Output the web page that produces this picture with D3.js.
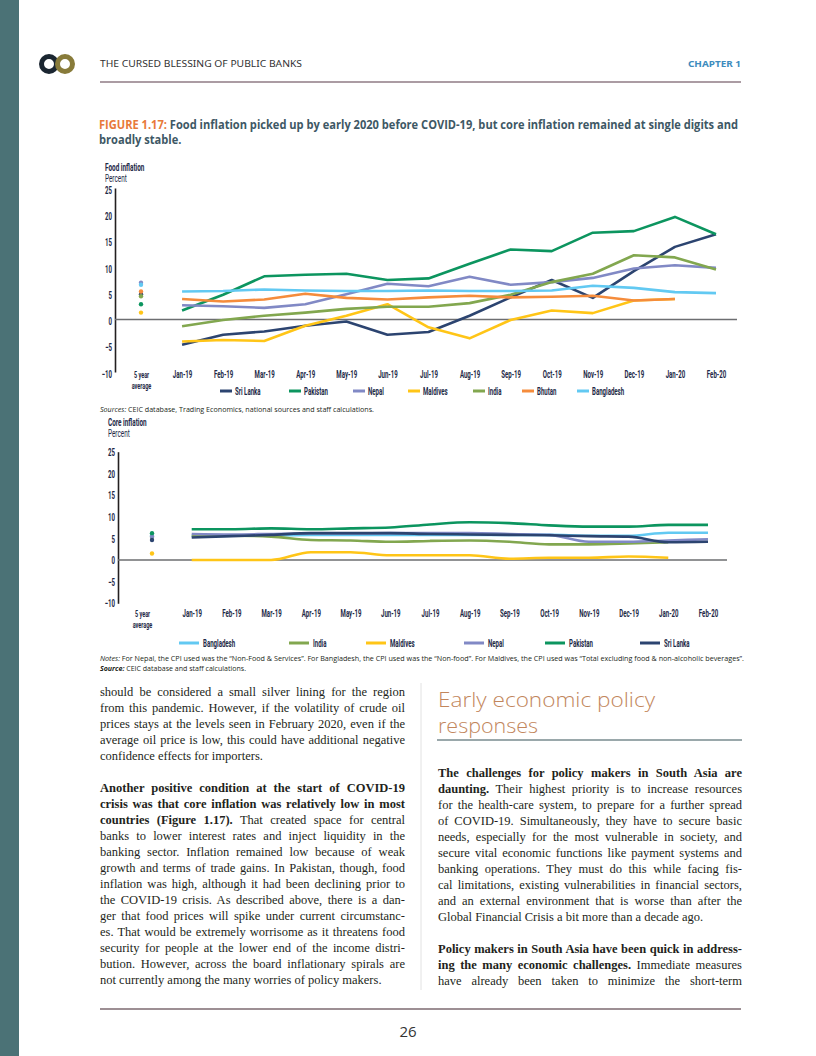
<!DOCTYPE html>
<html><head><meta charset="utf-8">
<script src="https://cdn.jsdelivr.net/npm/d3@7"></script>
<style>
html,body{margin:0;padding:0;background:#fff;}
body{width:816px;height:1056px;position:relative;overflow:hidden;}
#page{position:absolute;left:0;top:0;}
.ln{position:absolute;font-family:"Liberation Serif","Times New Roman",serif;font-size:12.5px;line-height:16px;color:#231f20;text-align:justify;text-align-last:justify;white-space:nowrap;}
.ln.last{text-align-last:left;}
.ln b{font-weight:bold;}
</style></head><body>
<svg id="page" width="816" height="1056"></svg>
<script>
// ---------- DATA ----------
const months = ["Jan-19","Feb-19","Mar-19","Apr-19","May-19","Jun-19","Jul-19","Aug-19","Sep-19","Oct-19","Nov-19","Dec-19","Jan-20","Feb-20"];
const avgLabel = "5 year average";
const categories = [avgLabel, ...months];
const yTicks = [25, 20, 15, 10, 5, 0, -5, -10];

const foodCountries = ["Sri Lanka","Pakistan","Nepal","Maldives","India","Bhutan","Bangladesh"];
const foodSriLanka  = [-4.8,-2.9,-2.3,-1.2,-0.4,-2.9,-2.4, 0.7, 4.2, 7.5, 4.1, 9.2,13.8,16.2];
const foodPakistan  = [ 1.7, 4.7, 8.2, 8.5, 8.7, 7.5, 7.8,10.6,13.3,13.0,16.5,16.8,19.5,16.2];
const foodNepal     = [ 2.7, 2.5, 2.2, 2.9, 4.8, 6.8, 6.3, 8.1, 6.6, 7.1, 7.9, 9.7,10.3, 9.8];
const foodMaldives  = [-4.2,-3.9,-4.1,-1.2, 0.7, 2.9,-1.5,-3.6,-0.1, 1.7, 1.2, 3.6, 3.9, null];
const foodIndia     = [-1.3,-0.1, 0.7, 1.3, 2.0, 2.4, 2.4, 3.1, 4.7, 7.1, 8.7,12.2,11.8, 9.5];
const foodBhutan    = [ 3.9, 3.4, 3.8, 4.9, 4.1, 3.8, 4.2, 4.5, 4.2, 4.3, 4.5, 3.6, 3.9, null];
const foodBangladesh= [ 5.3, 5.4, 5.7, 5.5, 5.4, 5.4, 5.5, 5.4, 5.4, 5.5, 6.4, 6.0, 5.2, 5.0];
const food5yrAvg    = [4.8, 2.9, 7.0, 1.3, 4.4, 5.3, 6.6]; // same order as foodCountries

const coreCountries = ["Bangladesh","India","Maldives","Nepal","Pakistan","Sri Lanka"];
const coreBangladesh= [5.5, 5.6, 5.7, 5.8, 5.8, 5.8, 5.8, 5.8, 5.8, 5.8, 5.6, 5.6, 6.3, 6.3];
const coreIndia     = [5.6, 5.6, 5.4, 4.6, 4.5, 4.2, 4.4, 4.5, 4.2, 3.6, 3.6, 3.8, 4.1, null];
const coreMaldives  = [0.0, 0.0, 0.0, 1.8, 1.8, 1.1, 1.1, 1.1, 0.3, 0.5, 0.5, 0.8, 0.5, null];
const coreNepal     = [6.0, 5.9, 6.0, 6.1, 6.1, 6.2, 6.2, 6.2, 6.0, 5.8, 4.2, 4.2, 4.5, 4.8];
const corePakistan  = [7.1, 7.1, 7.3, 7.1, 7.3, 7.5, 8.2, 8.7, 8.5, 8.0, 7.7, 7.7, 8.1, 8.1];
const coreSriLanka  = [5.2, 5.5, 5.8, 6.2, 6.2, 6.2, 6.0, 5.9, 5.8, 5.7, 5.5, 5.4, 4.1, 4.2];
const core5yrAvg    = [5.6, 5.3, 1.5, 5.4, 6.2, 4.6]; // same order as coreCountries

// ---------- STYLE ----------
const colors = {"Sri Lanka":"#2c4470","Pakistan":"#0c955f","Nepal":"#8189c5","Maldives":"#ffc517",
  "India":"#82a74f","Bhutan":"#f58c3c","Bangladesh":"#62c9f2"};
const condensed = 'Roboto,"Liberation Sans",sans-serif';
const SX = 0.58; // horizontal squeeze for the condensed chart font
const FS = 10.5;
const labelFill = "#1e2a48";

const svg = d3.select("#page");

function ctext(parent, x, y, str, opts={}){
  return parent.append("text").attr("transform",`translate(${x},${y}) scale(${SX},1)`)
    .attr("font-family",condensed).attr("font-size",opts.size||FS)
    .attr("font-weight",opts.bold===false?"normal":"bold").attr("fill",labelFill)
    .attr("text-anchor",opts.anchor||"start").text(str);
}

// page frame
svg.append("rect").attr("x",0).attr("y",0).attr("width",19).attr("height",1056).attr("fill","#4b7276");
// logo
const logo = svg.append("g");
logo.append("circle").attr("cx",49).attr("cy",64).attr("r",7.5).attr("fill","none").attr("stroke","#1b2631").attr("stroke-width",5);
logo.append("circle").attr("cx",65).attr("cy",64).attr("r",7.5).attr("fill","none").attr("stroke","#887b3a").attr("stroke-width",5);
logo.append("circle").attr("cx",49).attr("cy",64).attr("r",3).attr("fill","none").attr("stroke","#fff").attr("stroke-width",1.2);
logo.append("circle").attr("cx",65).attr("cy",64).attr("r",3).attr("fill","none").attr("stroke","#fff").attr("stroke-width",1.2);

svg.append("text").attr("x",100).attr("y",67).attr("font-family",'"Noto Sans",sans-serif').attr("font-size",8)
  .attr("fill","#333").attr("textLength",202).attr("lengthAdjust","spacingAndGlyphs").text("THE CURSED BLESSING OF PUBLIC BANKS");
svg.append("text").attr("x",741).attr("y",67).attr("text-anchor","end").attr("font-family",'"Noto Sans",sans-serif')
  .attr("font-size",8).attr("font-weight","bold").attr("fill","#3d8bbd").attr("textLength",53).attr("lengthAdjust","spacingAndGlyphs").text("CHAPTER 1");
svg.append("line").attr("x1",100).attr("x2",741).attr("y1",82).attr("y2",82).attr("stroke","#ab9ca3").attr("stroke-width",2);

// footer
svg.append("line").attr("x1",100).attr("x2",741).attr("y1",1009).attr("y2",1009).attr("stroke","#7d6a70").attr("stroke-width",1.5);
svg.append("text").attr("x",408).attr("y",1037).attr("text-anchor","middle").attr("font-family",'"Open Sans",sans-serif')
  .attr("font-size",15).attr("fill","#333").text("26");

// title
const t1 = svg.append("text").attr("x",99).attr("y",129).attr("font-family",'"Open Sans",sans-serif').attr("font-size",11.5)
  .attr("font-weight","bold").attr("fill","#3e5865");
t1.append("tspan").attr("fill","#e8793a").text("FIGURE 1.17: ");
t1.append("tspan").text("Food inflation picked up by early 2020 before COVID-19, but core inflation remained at single digits and");
const t2 = svg.append("text").attr("x",99).attr("y",144).attr("font-family",'"Open Sans",sans-serif').attr("font-size",11.5)
  .attr("font-weight","bold").attr("fill","#3e5865").text("broadly stable.");
const ratio = 639 / t1.node().getComputedTextLength();
t1.attr("textLength",639).attr("lengthAdjust","spacingAndGlyphs");
t2.attr("textLength",t2.node().getComputedTextLength()*ratio).attr("lengthAdjust","spacingAndGlyphs");

// ---------- CHART BUILDER ----------
function chart(opt){
  const g = svg.append("g");
  const x = d3.scalePoint().domain(categories).range(opt.xRange);
  const y = d3.scaleLinear().domain([-10,25]).range(opt.yRange);

  ctext(g, opt.axisX-10, opt.headY, opt.head, {size:11});
  ctext(g, opt.axisX-10, opt.headY+10.5, "Percent", {size:11, bold:false});

  // y axis
  const ya = g.append("g").attr("transform",`translate(${opt.axisX},0)`)
    .call(d3.axisLeft(y).tickValues(yTicks).tickSize(0).tickSizeOuter(0).tickPadding(3).tickFormat(d3.format("d")));
  ya.select(".domain").attr("stroke","#231f20").attr("stroke-width",1.6);
  ya.selectAll("text").attr("font-family",condensed).attr("font-weight","bold").attr("font-size",FS).attr("fill",labelFill)
    .attr("dy", opt.yLabelDy).attr("transform",`scale(${SX},1)`).attr("x",-3/SX);

  // zero line
  g.append("line").attr("x1",opt.axisX).attr("x2",opt.zeroEnd).attr("y1",y(0)).attr("y2",y(0))
    .attr("stroke","#6d6e71").attr("stroke-width",1.5);

  // x axis labels
  const xa = g.append("g").attr("transform",`translate(0,${opt.xLabelY})`)
    .call(d3.axisBottom(x).tickSize(0).tickPadding(0));
  xa.select(".domain").remove();
  xa.selectAll("text").attr("font-family",condensed).attr("font-weight","bold").attr("font-size",FS).attr("fill",labelFill)
    .attr("transform",`scale(${SX},1)`)
    .each(function(d){
      if(d===avgLabel){
        const t = d3.select(this).text(null).attr("font-size",9.5)
          .attr("transform",`translate(${opt.avgDx},0) scale(${SX},1)`);
        t.append("tspan").attr("x",0).attr("dy","0.75em").text("5 year");
        t.append("tspan").attr("x",0).attr("dy","1.15em").text("average");
      }
    });

  const line = d3.line().defined(d=>d.v!==null).x(d=>x(d.m)).y(d=>y(d.v)).curve(opt.curve);
  opt.series.forEach(s=>{
    const pts = months.map((m,j)=>({m:m, v:s.values[j]}));
    g.append("path").datum(pts).attr("d",line).attr("fill","none").attr("stroke",colors[s.name])
      .attr("stroke-width",opt.lw).attr("stroke-linejoin","round").attr("stroke-linecap","butt");
  });
  opt.series.forEach(s=>{
    g.append("circle").attr("cx",x(avgLabel)).attr("cy",y(s.avg)).attr("r",2.2).attr("fill",colors[s.name]);
  });

  // legend
  const lg = g.append("g").attr("transform",`translate(0,${opt.legendY})`);
  opt.legendOrder.forEach((name,i)=>{
    const lx = opt.legendX[i];
    lg.append("line").attr("x1",lx).attr("x2",lx+opt.legendLen).attr("y1",0).attr("y2",0)
      .attr("stroke",colors[name]).attr("stroke-width",3);
    ctext(lg, lx+opt.legendLen+opt.legendGap, 3.6, name);
  });
}

const foodValues = [foodSriLanka, foodPakistan, foodNepal, foodMaldives, foodIndia, foodBhutan, foodBangladesh];
chart({
  head:"Food inflation", headY:171, axisX:115, xRange:[141,716], yRange:[372,188], zeroEnd:737,
  xLabelY:371, yLabelDy:"0.5em", avgDx:0, curve:d3.curveLinear, lw:2.6,
  series: foodCountries.map((n,i)=>({name:n, values:foodValues[i], avg:food5yrAvg[i]})),
  legendOrder: foodCountries, legendX:[220,289,353,408,473,522,577], legendLen:12, legendGap:3, legendY:391
});

const coreValues = [coreBangladesh, coreIndia, coreMaldives, coreNepal, corePakistan, coreSriLanka];
chart({
  head:"Core inflation", headY:426, axisX:118, xRange:[152,708], yRange:[603.3,451.7], zeroEnd:727,
  xLabelY:610, yLabelDy:"0.35em", avgDx:-10, curve:d3.curveMonotoneX, lw:2.6,
  series: coreCountries.map((n,i)=>({name:n, values:coreValues[i], avg:core5yrAvg[i]})),
  legendOrder: coreCountries, legendX:[179,289,366,464,545,640], legendLen:20, legendGap:4, legendY:643
});

// sources / notes
const smallFont = '"Open Sans",sans-serif';
const src = svg.append("text").attr("x",100).attr("y",412).attr("font-family",smallFont).attr("font-size",6.6).attr("fill","#231f20")
  .attr("textLength",274).attr("lengthAdjust","spacingAndGlyphs");
src.append("tspan").attr("font-style","italic").text("Sources: ");
src.append("tspan").text("CEIC database, Trading Economics, national sources and staff calculations.");
const n1 = svg.append("text").attr("x",100).attr("y",661).attr("font-family",smallFont).attr("font-size",6.6).attr("fill","#231f20")
  .attr("textLength",644).attr("lengthAdjust","spacingAndGlyphs");
n1.append("tspan").attr("font-style","italic").text("Notes: ");
n1.append("tspan").text("For Nepal, the CPI used was the \u201CNon-Food & Services\u201D. For Bangladesh, the CPI used was the \u201CNon-food\u201D. For Maldives, the CPI used was \u201CTotal excluding food & non-alcoholic beverages\u201D.");
const n2 = svg.append("text").attr("x",100).attr("y",671).attr("font-family",smallFont).attr("font-size",6.6).attr("fill","#231f20")
  .attr("textLength",146).attr("lengthAdjust","spacingAndGlyphs");
n2.append("tspan").attr("font-style","italic").attr("font-weight","bold").text("Source: ");
n2.append("tspan").text("CEIC database and staff calculations.");

// section heading
svg.append("line").attr("x1",421).attr("x2",421).attr("y1",683).attr("y2",990).attr("stroke","#e2e2e2").attr("stroke-width",1);
svg.append("text").attr("x",438).attr("y",707).attr("font-family",'"Open Sans",sans-serif').attr("font-weight",300)
  .attr("font-size",21).attr("fill","#c2865c").attr("textLength",217).attr("lengthAdjust","spacingAndGlyphs").text("Early economic policy");
svg.append("text").attr("x",438).attr("y",733).attr("font-family",'"Open Sans",sans-serif').attr("font-weight",300)
  .attr("font-size",21).attr("fill","#c2865c").attr("textLength",100).attr("lengthAdjust","spacingAndGlyphs").text("responses");
svg.append("line").attr("x1",437).attr("x2",742).attr("y1",740).attr("y2",740).attr("stroke","#9aa8ab").attr("stroke-width",2);

// ---------- BODY TEXT ----------
const leftLines = [
  ["should be considered a small silver lining for the region",0],
  ["from this pandemic. However, if the volatility of crude oil",0],
  ["prices stays at the levels seen in February 2020, even if the",0],
  ["average oil price is low, this could have additional negative",0],
  ["confidence effects for importers.",1],
  null,
  ["<b>Another positive condition at the start of COVID-19</b>",0],
  ["<b>crisis was that core inflation was relatively low in most</b>",0],
  ["<b>countries (Figure 1.17).</b> That created space for central",0],
  ["banks to lower interest rates and inject liquidity in the",0],
  ["banking sector. Inflation remained low because of weak",0],
  ["growth and terms of trade gains. In Pakistan, though, food",0],
  ["inflation was high, although it had been declining prior to",0],
  ["the COVID-19 crisis. As described above, there is a dan-",0],
  ["ger that food prices will spike under current circumstanc-",0],
  ["es. That would be extremely worrisome as it threatens food",0],
  ["security for people at the lower end of the income distri-",0],
  ["bution. However, across the board inflationary spirals are",0],
  ["not currently among the many worries of policy makers.",1]
];
const rightLines = [
  ["<b>The challenges for policy makers in South Asia are</b>",0],
  ["<b>daunting.</b> Their highest priority is to increase resources",0],
  ["for the health-care system, to prepare for a further spread",0],
  ["of COVID-19. Simultaneously, they have to secure basic",0],
  ["needs, especially for the most vulnerable in society, and",0],
  ["secure vital economic functions like payment systems and",0],
  ["banking operations. They must do this while facing fis-",0],
  ["cal limitations, existing vulnerabilities in financial sectors,",0],
  ["and an external environment that is worse than after the",0],
  ["Global Financial Crisis a bit more than a decade ago.",1],
  null,
  ["<b>Policy makers in South Asia have been quick in address-</b>",0],
  ["<b>ing the many economic challenges.</b> Immediate measures",0],
  ["have already been taken to minimize the short-term",0]
];
function col(lines, left, width, firstBaseline){
  lines.forEach((l,i)=>{
    if(!l) return;
    d3.select("body").append("div").attr("class","ln"+(l[1]?" last":""))
      .style("left",left+"px").style("width",width+"px").style("top",(firstBaseline+16*i-12.2)+"px").html(l[0]);
  });
}
col(leftLines,100,305,696.5);
col(rightLines,438,304,777);
</script>
</body></html>
